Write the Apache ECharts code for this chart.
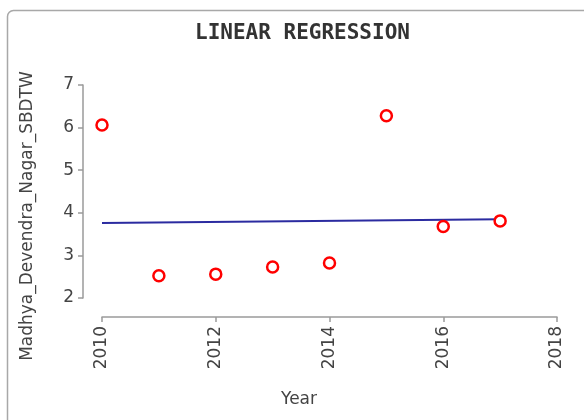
<!DOCTYPE html>
<html>
<head>
<meta charset="utf-8">
<script src="https://cdn.jsdelivr.net/npm/echarts@6/dist/echarts.min.js"></script>
<style>
  html, body { margin: 0; padding: 0; background: #fff; }
  #chart { width: 584px; height: 420px; }
</style>
</head>
<body>
<div id="chart"></div>
<script>
var years = [2010, 2011, 2012, 2013, 2014, 2015, 2016, 2017];
var values = [6.06, 2.52, 2.56, 2.73, 2.82, 6.28, 3.68, 3.81];
var fitYears = [2010, 2017];
var fitValues = [3.76, 3.85];
var xTicks = [2010, 2012, 2014, 2016, 2018];
var yTicks = [2, 3, 4, 5, 6, 7];

var chart = echarts.init(document.getElementById('chart'));
var font = 'DejaVu Sans';
var axisGrey = '#9a9a9a';

var points = years.map(function (y, i) { return [y, values[i]]; });
var fit = fitYears.map(function (y, i) { return [y, fitValues[i]]; });

var option = {
    animation: false,
    backgroundColor: '#fff',
    title: {
        text: 'LINEAR REGRESSION',
        left: 190,
        top: 18,
        textStyle: { fontFamily: 'DejaVu Sans Mono', fontWeight: 'bold', fontSize: 21, color: '#333' }
    },
    graphic: [{
        type: 'rect',
        shape: { x: 7.5, y: 10.5, width: 620, height: 440, r: 6 },
        style: { fill: 'none', stroke: '#a8a8a8', lineWidth: 1.5 },
        silent: true
    }, {
        type: 'text',
        x: 28, y: 216,
        rotation: Math.PI / 2,
        style: {
            text: 'Madhya_Devendra_Nagar_SBDTW',
            fontFamily: font, fontSize: 17, fill: '#444',
            align: 'center', verticalAlign: 'middle'
        }
    }, {
        type: 'text',
        x: 299, y: 400,
        style: {
            text: 'Year',
            fontFamily: font, fontSize: 17, fill: '#444',
            align: 'center', verticalAlign: 'middle'
        }
    }],
    grid: { left: 102, right: 27, top: 85, bottom: 122 },
    xAxis: {
        type: 'value',
        min: xTicks[0], max: xTicks[xTicks.length - 1], interval: 2,
        offset: 19,
        axisLine: { lineStyle: { color: axisGrey, width: 1.5 } },
        axisTick: { length: 5, lineStyle: { color: axisGrey, width: 1.5 } },
        splitLine: { show: false },
        axisLabel: {
            rotate: 90, margin: 9, fontFamily: font, fontSize: 17, color: '#444',
            formatter: function (v) { return String(v); }
        }
    },
    yAxis: {
        type: 'value',
        min: yTicks[0], max: yTicks[yTicks.length - 1], interval: 1,
        offset: 19,
        axisLine: { show: true, lineStyle: { color: axisGrey, width: 1.5 } },
        axisTick: { show: true, length: 5, lineStyle: { color: axisGrey, width: 1.5 } },
        splitLine: { show: false },
        axisLabel: { margin: 9, fontFamily: font, fontSize: 17, color: '#444' }
    },
    series: [{
        type: 'line',
        data: fit,
        symbol: 'none',
        lineStyle: { color: '#2b2ba0', width: 2 },
        z: 2
    }, {
        type: 'scatter',
        data: points,
        symbol: 'circle',
        symbolSize: 11,
        itemStyle: { color: '#fff', borderColor: '#ff0000', borderWidth: 2.5, opacity: 1 },
        z: 3
    }]
};

chart.setOption(option);
</script>
</body>
</html>
